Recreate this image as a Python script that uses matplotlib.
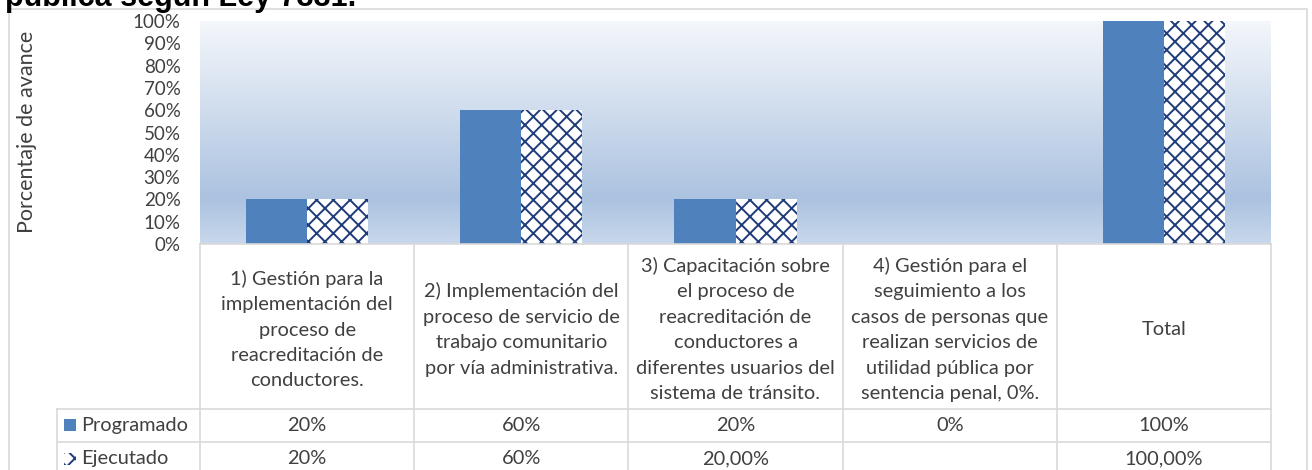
import matplotlib.pyplot as plt
import numpy as np
from matplotlib.patches import Rectangle
from matplotlib.colors import LinearSegmentedColormap

categorias = [
    "1) Gestión para la\nimplementación del\nproceso de\nreacreditación de\nconductores.",
    "2) Implementación del\nproceso de servicio de\ntrabajo comunitario\npor vía administrativa.",
    "3) Capacitación sobre\nel proceso de\nreacreditación de\nconductores a\ndiferentes usuarios del\nsistema de tránsito.",
    "4) Gestión para el\nseguimiento a los\ncasos de personas que\nrealizan servicios de\nutilidad pública por\nsentencia penal, 0%.",
    "Total",
]
programado = [0.20, 0.60, 0.20, 0.00, 1.00]
ejecutado = [0.20, 0.60, 0.20, 0.00, 1.00]
programado_txt = ["20%", "60%", "20%", "0%", "100%"]
ejecutado_txt = ["20%", "60%", "20,00%", "", "100,00%"]
series = ["Programado", "Ejecutado"]
yticks = np.arange(0, 1.01, 0.1)

plt.rcParams['font.family'] = ['Lato', 'DejaVu Sans']
plt.rcParams['hatch.linewidth'] = 1.4

W, H = 1312, 470
azul = '#4f81bd'
marino = '#1f3c7a'
gris = '#d9d9d9'
texto = '#404040'
fs = 14.4

fig = plt.figure(figsize=(W / 100, H / 100), dpi=100)
ax = fig.add_axes([200 / W, (H - 244) / H, 1071 / W, 223 / H])

# fondo degradado del area de trazado
fondo = LinearSegmentedColormap.from_list(
    'fondo', [(0, '#c9d8ec'), (0.2, '#abc2e0'), (1, '#f4f7fb')])
ax.imshow(np.linspace(0, 1, 256).reshape(-1, 1), cmap=fondo, origin='lower',
          aspect='auto', extent=(-0.5, 4.5, 0, 1), zorder=0)

x = np.arange(len(categorias))
bw = 0.285
ax.bar(x, programado, width=-bw, align='edge', color=azul, zorder=2)
ax.bar(x, ejecutado, width=bw, align='edge', color='white', edgecolor=marino,
       hatch='xx', linewidth=0, zorder=2)

ax.set_xlim(-0.5, 4.5)
ax.set_ylim(0, 1)
ax.set_yticks(yticks)
ax.set_yticklabels([f"{int(round(v * 100))}%" for v in yticks])
ax.tick_params(axis='y', length=0, pad=14, labelsize=13.5, labelcolor=texto)
ax.set_xticks([])
for s in ax.spines.values():
    s.set_visible(False)

# tabla de datos bajo el grafico
tr = ax.get_xaxis_transform()


def ya(py):
    return (244 - py) / 223


xh = -0.5 - 143 / 214.2
abajo = ya(480)
kw = dict(transform=tr, clip_on=False, color=gris, lw=1.2)
ax.plot([-0.5, 4.5], [0, 0], **kw)
ax.plot([xh, 4.5], [ya(409), ya(409)], **kw)
ax.plot([xh, 4.5], [ya(442), ya(442)], **kw)
for b in np.arange(-0.5, 5, 1):
    ax.plot([b, b], [0, abajo], **kw)
ax.plot([xh, xh], [ya(409), abajo], **kw)

for i, c in enumerate(categorias):
    ax.text(i, ya(329.5), c, ha='center', va='center', transform=tr,
            fontsize=fs, linespacing=1.6, color=texto)
    ax.text(i, ya(425.5), programado_txt[i], ha='center', va='center',
            transform=tr, fontsize=fs, color=texto)
    ax.text(i, ya(458.5), ejecutado_txt[i], ha='center', va='center',
            transform=tr, fontsize=fs, color=texto)

# claves de la leyenda
xk = -0.5 - (200 - 64) / 214.2
ax.add_patch(Rectangle((xk, ya(431)), 12 / 214.2, 12 / 223, transform=tr,
                       clip_on=False, facecolor=azul, edgecolor='none'))
ax.add_patch(Rectangle((xk, ya(465)), 12 / 214.2, 12 / 223, transform=tr,
                       clip_on=False, facecolor='white', edgecolor=marino,
                       hatch='xx', linewidth=0))
xt = -0.5 - (200 - 81) / 214.2
ax.text(xt, ya(425.5), series[0], ha='left', va='center', transform=tr,
        fontsize=fs, color=texto)
ax.text(xt, ya(458.5), series[1], ha='left', va='center', transform=tr,
        fontsize=fs, color=texto)

# borde del grafico
fig.add_artist(Rectangle((9 / W, -0.05), 1298 / W, 1.05 - 9 / H,
                         transform=fig.transFigure, fill=False,
                         edgecolor=gris, lw=1.2))

fig.text(5 / W, 1 - 6 / H, "pública según Ley 7331.", fontweight='bold',
         fontsize=22, ha='left', va='baseline',
         family=['Liberation Sans', 'DejaVu Sans'], color='black')
fig.text(27 / W, 1 - 132 / H, "Porcentaje de avance", rotation=90,
         ha='center', va='center', fontsize=15.5, color=texto)

fig.savefig('out.png', dpi=100)
